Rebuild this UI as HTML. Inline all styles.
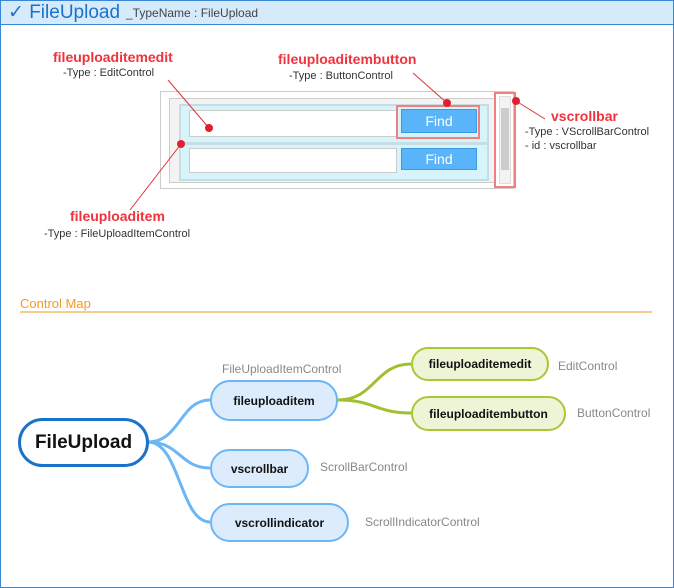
<!DOCTYPE html>
<html><head><meta charset="utf-8"><style>
body{margin:0;width:674px;height:588px;overflow:hidden;background:#fff;font-family:"Liberation Sans",sans-serif;}
.t{position:absolute;white-space:nowrap;}
.r{color:#f0323c;font-weight:bold;font-size:14px;}
.g{color:#333;font-size:11px;}
.n{position:absolute;box-sizing:border-box;border-radius:20px;display:flex;align-items:center;justify-content:center;font-weight:bold;font-size:12px;color:#111;}
.b{background:#dcecfc;border:2.5px solid #6cb6f6;}
.y{background:#eef5d6;border:2.5px solid #a8c832;}
.l{color:#888;font-size:12px;}
</style></head><body>
<div style="position:absolute;left:0;top:0;width:672px;height:586px;border:1px solid #3a86d6;"></div>
<div style="position:absolute;left:1px;top:1px;width:672px;height:23px;background:#d5eafb;border-bottom:1px solid #3a86d6;"></div>
<div class="t" style="left:8px;top:1px;font-size:19px;color:#1a73c9;">✓ FileUpload</div>
<div class="t" style="left:126px;top:6px;font-size:12px;color:#444;">_TypeName : FileUpload</div>

<div style="position:absolute;left:160px;top:91px;width:352px;height:96px;border:1px solid #ccc;background:#fff;"></div>
<div style="position:absolute;left:169px;top:98px;width:324px;height:83px;border:1px solid #ccc;background:#f3f3f3;"></div>
<div style="position:absolute;left:179px;top:104px;width:306px;height:36px;border:2px solid #c6dde4;background:#d6f4fa;"></div>
<div style="position:absolute;left:189px;top:110px;width:206px;height:25px;border:1px solid #ccc;background:#fff;"></div>
<div style="position:absolute;left:396px;top:105px;width:84px;height:34px;border:2px solid #f08080;box-sizing:border-box;"></div>
<div style="position:absolute;left:401px;top:109px;width:76px;height:24px;background:#5ab4fa;border:1px solid #3a9ae6;box-sizing:border-box;color:#fff;font-size:14px;text-align:center;line-height:22px;">Find</div>
<div style="position:absolute;left:179px;top:143px;width:306px;height:34px;border:2px solid #c6dde4;background:#d6f4fa;"></div>
<div style="position:absolute;left:189px;top:148px;width:206px;height:23px;border:1px solid #ccc;background:#fff;"></div>
<div style="position:absolute;left:401px;top:148px;width:76px;height:22px;background:#5ab4fa;border:1px solid #3a9ae6;box-sizing:border-box;color:#fff;font-size:14px;text-align:center;line-height:20px;">Find</div>
<div style="position:absolute;left:494px;top:92px;width:22px;height:96px;border:2px solid #f08080;box-sizing:border-box;"></div>
<div style="position:absolute;left:499px;top:96px;width:12px;height:88px;background:#f3f3f3;border:1px solid #ddd;box-sizing:border-box;"></div>
<div style="position:absolute;left:501px;top:108px;width:8px;height:62px;background:#ccc;"></div>

<svg width="674" height="588" style="position:absolute;left:0;top:0">
<g stroke="#e0303a" stroke-width="1"><line x1="168" y1="80" x2="209" y2="128"/><line x1="413" y1="73" x2="447" y2="103"/><line x1="516" y1="101" x2="545" y2="119"/><line x1="181" y1="144" x2="130" y2="210"/></g>
<g fill="#e0202e"><circle cx="209" cy="128" r="4"/><circle cx="447" cy="103" r="4"/><circle cx="516" cy="101" r="4"/><circle cx="181" cy="144" r="4"/></g>
<line x1="20" y1="312" x2="652" y2="312" stroke="#f59a1e" stroke-width="1"/>
<g fill="none" stroke="#6cb6f6" stroke-width="3">
<path d="M148 442 C180 442,180 400,210 400"/>
<path d="M148 442 C180 442,180 468,210 468"/>
<path d="M148 442 C180 442,180 522,210 522"/>
</g>
<g fill="none" stroke="#a0c030" stroke-width="3">
<path d="M338 400 C375 400,375 364,411 364"/>
<path d="M338 400 C375 400,375 413,411 413"/>
</g>
</svg>

<div class="t r" style="left:53px;top:49px;">fileuploaditemedit</div>
<div class="t g" style="left:63px;top:67px;">-Type : EditControl</div>
<div class="t r" style="left:278px;top:51px;">fileuploaditembutton</div>
<div class="t g" style="left:289px;top:70px;">-Type : ButtonControl</div>
<div class="t r" style="left:551px;top:108px;">vscrollbar</div>
<div class="t g" style="left:525px;top:126px;">-Type : VScrollBarControl</div>
<div class="t g" style="left:525px;top:140px;">- id : vscrollbar</div>
<div class="t r" style="left:70px;top:208px;">fileuploaditem</div>
<div class="t g" style="left:44px;top:228px;">-Type : FileUploadItemControl</div>

<div class="t" style="left:20px;top:296px;font-size:13px;color:#f59a1e;">Control Map</div>

<div class="n" style="left:18px;top:418px;width:131px;height:49px;border:3px solid #1a73c9;background:#fff;font-size:19px;border-radius:25px;">FileUpload</div>
<div class="n b" style="left:210px;top:380px;width:128px;height:41px;">fileuploaditem</div>
<div class="n b" style="left:210px;top:449px;width:99px;height:39px;">vscrollbar</div>
<div class="n b" style="left:210px;top:503px;width:139px;height:39px;">vscrollindicator</div>
<div class="n y" style="left:411px;top:347px;width:138px;height:34px;">fileuploaditemedit</div>
<div class="n y" style="left:411px;top:396px;width:155px;height:35px;">fileuploaditembutton</div>
<div class="t l" style="left:222px;top:362px;">FileUploadItemControl</div>
<div class="t l" style="left:320px;top:460px;">ScrollBarControl</div>
<div class="t l" style="left:365px;top:515px;">ScrollIndicatorControl</div>
<div class="t l" style="left:558px;top:359px;">EditControl</div>
<div class="t l" style="left:577px;top:406px;">ButtonControl</div>
</body></html>
